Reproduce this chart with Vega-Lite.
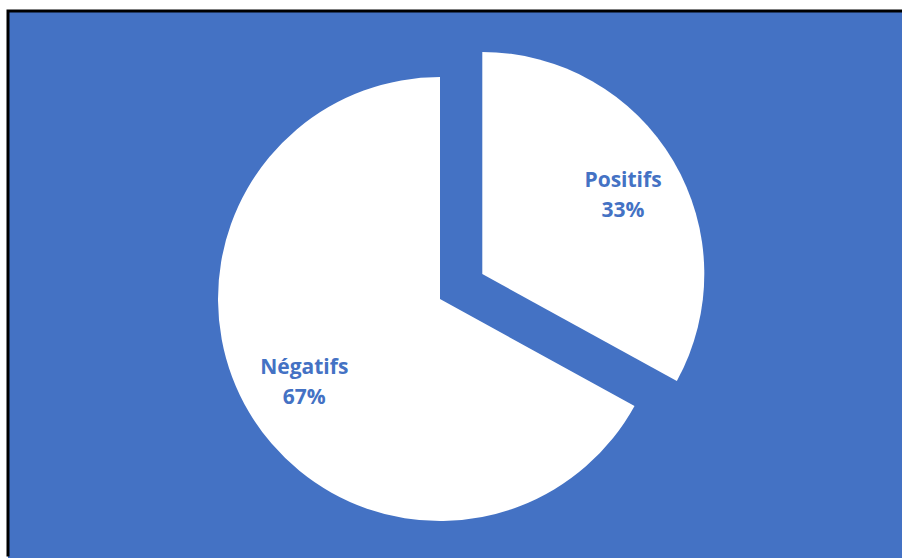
{
  "$schema": "https://vega.github.io/schema/vega-lite/v6.json",
  "width": 894,
  "height": 547,
  "autosize": {"type": "none"},
  "padding": {"left": 8, "top": 11, "right": 0, "bottom": 0},
  "background": "white",
  "view": {"fill": "#4472C4", "stroke": "black", "strokeWidth": 3, "strokeDash": [895.5, 1441, 548, 0]},
  "data": {"values": [
    {"label": "Positifs", "value": 0.33},
    {"label": "Négatifs", "value": 0.67}
  ]},
  "encoding": {
    "theta": {"field": "value", "type": "quantitative", "stack": true},
    "order": {"field": "value", "type": "quantitative", "sort": "ascending"}
  },
  "layer": [
    {
      "mark": {"type": "arc", "outerRadius": 222, "fill": "white", "xOffset": -15, "yOffset": 14.5},
      "encoding": {"opacity": {"condition": {"test": "datum.label === 'Négatifs'", "value": 1}, "value": 0}}
    },
    {
      "mark": {"type": "arc", "outerRadius": 222, "fill": "white", "xOffset": 27.3, "yOffset": -10.5},
      "encoding": {"opacity": {"condition": {"test": "datum.label === 'Positifs'", "value": 1}, "value": 0}}
    },
    {
      "mark": {"type": "text", "radius": 160, "xOffset": -15, "yOffset": 14.5, "dx": 2, "dy": -6, "baseline": "alphabetic", "font": "Open Sans", "fontSize": 21, "fontWeight": "bold", "color": "#4472C4"},
      "encoding": {
        "text": {"field": "label"},
        "opacity": {"condition": {"test": "datum.label === 'Négatifs'", "value": 1}, "value": 0}
      }
    },
    {
      "mark": {"type": "text", "radius": 160, "xOffset": -15, "yOffset": 14.5, "dx": 2, "dy": 24, "baseline": "alphabetic", "font": "Open Sans", "fontSize": 21, "fontWeight": "bold", "color": "#4472C4"},
      "encoding": {
        "text": {"field": "value", "type": "quantitative", "format": ".0%"},
        "opacity": {"condition": {"test": "datum.label === 'Négatifs'", "value": 1}, "value": 0}
      }
    },
    {
      "mark": {"type": "text", "radius": 160, "xOffset": 27.3, "yOffset": -10.5, "dx": 3, "dy": -6, "baseline": "alphabetic", "font": "Open Sans", "fontSize": 21, "fontWeight": "bold", "color": "#4472C4"},
      "encoding": {
        "text": {"field": "label"},
        "opacity": {"condition": {"test": "datum.label === 'Positifs'", "value": 1}, "value": 0}
      }
    },
    {
      "mark": {"type": "text", "radius": 160, "xOffset": 27.3, "yOffset": -10.5, "dx": 3, "dy": 24, "baseline": "alphabetic", "font": "Open Sans", "fontSize": 21, "fontWeight": "bold", "color": "#4472C4"},
      "encoding": {
        "text": {"field": "value", "type": "quantitative", "format": ".0%"},
        "opacity": {"condition": {"test": "datum.label === 'Positifs'", "value": 1}, "value": 0}
      }
    }
  ]
}
